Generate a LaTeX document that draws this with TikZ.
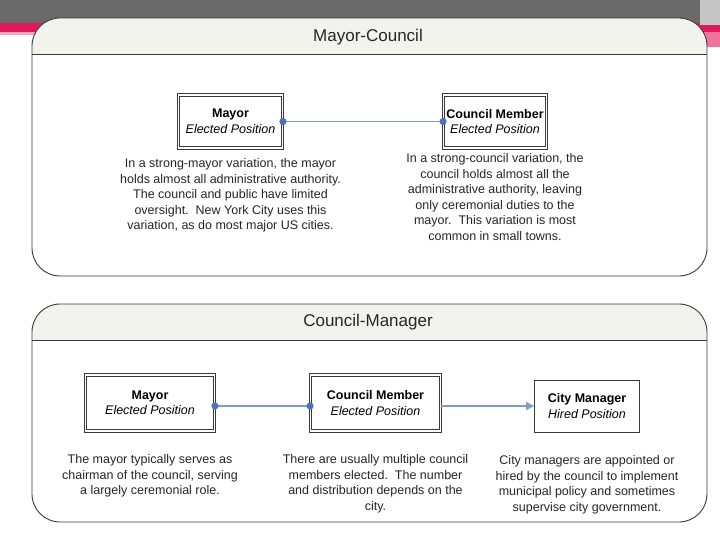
\documentclass[tikz,border=0pt]{standalone}
\usepackage{fontspec}
\setmainfont{Liberation Sans}
\usetikzlibrary{arrows.meta,positioning}
\definecolor{slgray}{HTML}{6A6A6A}
\definecolor{slpink}{HTML}{E2185E}
\definecolor{slpinklt}{HTML}{F4A3C0}
\definecolor{pnline}{HTML}{3A3A3A}
\definecolor{pnhead}{HTML}{F3F3EE}
\definecolor{lnblue}{HTML}{7E9CCD}
\definecolor{lndot}{HTML}{4A74B8}

\begin{document}
\begin{tikzpicture}[x=1pt, y=-1pt,
  panel/.style={draw=pnline, line width=0.9pt, rounded corners=28pt},
  head/.style={font=\fontsize{17}{20}\selectfont, text=black!85},
  role/.style={draw=pnline, line width=0.9pt, double=white, double distance=1.6pt,
    fill=white, align=center, font=\fontsize{12.5}{15.5}\selectfont, inner sep=2pt},
  hired/.style={draw=pnline, line width=0.8pt, fill=white, align=center,
    font=\fontsize{12.5}{15.5}\selectfont, inner sep=2pt},
  note/.style={align=center, font=\fontsize{12.5}{15.5}\selectfont, text=black!85, inner sep=0pt},
  link/.style={draw=lnblue, line width=1.4pt, shorten <=-3.5pt, shorten >=-3.5pt,
    {Circle[color=lndot, length=7pt]}-{Circle[color=lndot, length=7pt]}},
  flow/.style={draw=lnblue, line width=1.4pt, -{Triangle[color=lnblue, length=8pt, width=8pt]}}]
\useasboundingbox (0,0) rectangle (720,540);
% slide background
\fill[white] (0,0) rectangle (720,540);
\fill[slgray] (0,0) rectangle (720,23);
\fill[slpink] (0,23) rectangle (720,32);
\fill[slpinklt] (0,32) rectangle (720,35);
\fill[gray!45] (700,0) rectangle (720,25);
\fill[slpink!60] (700,32) rectangle (720,47);
% panels
\begin{scope}
  \clip[rounded corners=28pt] (32,18) rectangle (707,276);
  \fill[white] (32,18) rectangle (707,276);
  \fill[pnhead] (32,18) rectangle (707,54);
\end{scope}
\draw[pnline, line width=0.9pt] (32,54) -- (707,54);
\draw[panel] (32,18) rectangle (707,276);
\begin{scope}
  \clip[rounded corners=28pt] (32,304) rectangle (707,522);
  \fill[white] (32,304) rectangle (707,522);
  \fill[pnhead] (32,304) rectangle (707,340);
\end{scope}
\draw[pnline, line width=0.9pt] (32,340) -- (707,340);
\draw[panel] (32,304) rectangle (707,522);
\node[head] (mcTitle) at (368,37) {Mayor-Council};
\node[head] (cmTitle) at (368,322) {Council-Manager};

% mayor-council
\node[role, minimum width=104pt, minimum height=53pt] (mayorA) at (230.5,121.5)
  {\textbf{Mayor}\\\textit{Elected Position}};
\node[role, minimum width=103pt, minimum height=53pt] (councilA) at (495,121.5)
  {\textbf{Council Member}\\\textit{Elected Position}};
\node[note, below=10pt of mayorA] (mayorANote) {In a strong-mayor variation, the mayor\\
  holds almost all administrative authority.\\The council and public have limited\\
  oversight.\ \ New York City uses this\\variation, as do most major US cities.};
\node[note, below=5pt of councilA] (councilANote) {In a strong-council variation, the\\
  council holds almost all the\\administrative authority, leaving\\only ceremonial duties to the\\
  mayor.\ \ This variation is most\\common in small towns.};
\draw[link] (mayorA) -- (councilA);

% council-manager
\node[role, minimum width=129pt, minimum height=56pt] (mayorB) at (150,403)
  {\textbf{Mayor}\\\textit{Elected Position}};
\node[role, minimum width=130pt, minimum height=56pt] (councilB) at (375.5,403)
  {\textbf{Council Member}\\\textit{Elected Position}};
\node[hired, minimum width=105pt, minimum height=52pt] (managerB) at (587,406)
  {\textbf{City Manager}\\\textit{Hired Position}};
\node[note, below=23pt of mayorB] (mayorBNote) {The mayor typically serves as\\
  chairman of the council, serving\\a largely ceremonial role.};
\node[note, below=23pt of councilB] (councilBNote) {There are usually multiple council\\
  members elected.\ \ The number\\and distribution depends on the\\city.};
\node[note, below=23pt of managerB] (managerBNote) {City managers are appointed or\\
  hired by the council to implement\\municipal policy and sometimes\\supervise city government.};
\draw[link] (mayorB.east |- managerB) -- (councilB.west |- managerB);
\draw[flow] (councilB.east |- managerB) -- (managerB);
\end{tikzpicture}
\end{document}
